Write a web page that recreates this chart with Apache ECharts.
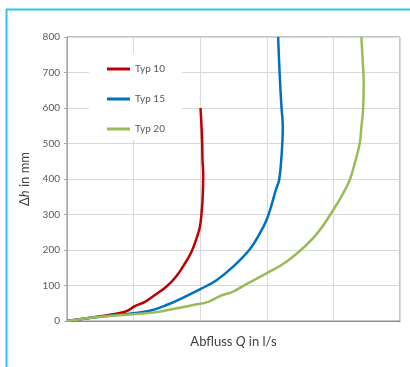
<!DOCTYPE html>
<html>
<head>
<meta charset="utf-8">
<script src="https://cdn.jsdelivr.net/npm/echarts@6/dist/echarts.min.js"></script>
<style>
  html, body { margin: 0; padding: 0; background: #fff; }
  #chart { width: 410px; height: 367px; }
</style>
</head>
<body>
<div id="chart"></div>
<script>
// Abfluss Q (x, in grid units) and Δh in mm (y)
const seriesNames = ['Typ 10', 'Typ 15', 'Typ 20'];
const seriesColors = ['#c00000', '#0070c0', '#9bbb59'];

const typ10Q = [0, 0.45, 0.87, 1.02, 1.17, 1.32, 1.5, 1.645, 1.77, 1.87, 1.945, 1.995, 2.02, 2.035, 2.045, 2.035, 2.03, 2.02, 2.005];
const typ10H = [0, 12, 26, 42, 54, 73, 98, 127, 162, 195, 233, 265, 303, 340, 415, 453, 500, 547, 600];

const typ15Q = [0, 0.5, 0.995, 1.245, 1.495, 1.745, 1.995, 2.245, 2.495, 2.745, 2.895, 2.995, 3.07, 3.135, 3.185, 3.22, 3.235, 3.24, 3.22, 3.195, 3.17];
const typ15H = [0, 12, 22, 29, 45, 66, 89, 115, 153, 202, 247, 284, 326, 369, 397, 462, 509, 547, 603, 688, 800];

const typ20Q = [0, 0.5, 0.995, 1.345, 1.645, 1.895, 2.12, 2.295, 2.495, 2.695, 2.995, 3.295, 3.595, 3.795, 3.995, 4.145, 4.245, 4.32, 4.395, 4.42, 4.445, 4.455, 4.445, 4.42];
const typ20H = [0, 12, 19, 25, 36, 45, 54, 70, 83, 104, 134, 167, 214, 256, 312, 359, 397, 444, 500, 547, 594, 669, 716, 800];

const yTicks = [0, 100, 200, 300, 400, 500, 600, 700, 800];

function pairs(xs, ys) {
    return xs.map((x, i) => [x, ys[i]]);
}

const seriesData = [pairs(typ10Q, typ10H), pairs(typ15Q, typ15H), pairs(typ20Q, typ20H)];

const chart = echarts.init(document.getElementById('chart'));

chart.setOption({
    animation: false,
    textStyle: { fontFamily: 'Lato' },
    grid: {
        left: 67, right: 10, top: 37, bottom: 46,
        show: true, borderColor: '#8c8c8c', borderWidth: 1
    },
    graphic: [
        { type: 'line', shape: { x1: 6.5, y1: 9, x2: 6.5, y2: 367 }, style: { stroke: '#29c3f5', lineWidth: 2 } },
        { type: 'line', shape: { x1: 6, y1: 9.5, x2: 410, y2: 9.5 }, style: { stroke: '#29c3f5', lineWidth: 2 } }
    ],
    legend: {
        orient: 'vertical',
        left: 89, top: 53,
        padding: [11, 17, 6, 18],
        backgroundColor: '#ffffff',
        itemWidth: 23, itemHeight: 3,
        itemGap: 20,
        icon: 'rect',
        textStyle: { fontSize: 10, color: '#595959', fontFamily: 'Lato' },
        data: seriesNames
    },
    xAxis: {
        type: 'value',
        min: 0, max: 5, interval: 1,
        name: 'Abfluss {i|Q} in l/s',
        nameLocation: 'middle',
        nameGap: 14,
        nameTextStyle: {
            fontSize: 13, color: '#404040', verticalAlign: 'top',
            rich: { i: { fontStyle: 'italic', fontSize: 13, color: '#404040' } }
        },
        axisLine: { show: true, lineStyle: { color: '#8c8c8c', width: 1 } },
        axisTick: { show: false },
        axisLabel: { show: false },
        splitLine: { show: true, lineStyle: { color: '#d9d9d9', width: 1 } }
    },
    yAxis: {
        type: 'value',
        min: 0, max: 800, interval: 100,
        name: 'Δ{i|h} in mm',
        nameLocation: 'middle',
        nameRotate: 90,
        nameGap: 36,
        nameTextStyle: {
            fontSize: 13, color: '#404040',
            rich: { i: { fontStyle: 'italic', fontSize: 13, color: '#404040' } }
        },
        axisLine: { show: true, lineStyle: { color: '#a6a6a6', width: 1 } },
        axisTick: { show: true, length: 3, lineStyle: { color: '#a6a6a6' } },
        axisLabel: {
            fontSize: 10, color: '#595959', margin: 7,
            formatter: v => (yTicks.includes(v) ? String(v) : '')
        },
        splitLine: { show: true, lineStyle: { color: '#d9d9d9', width: 1 } }
    },
    series: seriesNames.map((name, i) => ({
        name: name,
        type: 'line',
        data: seriesData[i],
        showSymbol: false,
        smooth: 0.4,
        color: seriesColors[i],
        lineStyle: { width: 2.5, color: seriesColors[i] }
    }))
});
</script>
</body>
</html>
